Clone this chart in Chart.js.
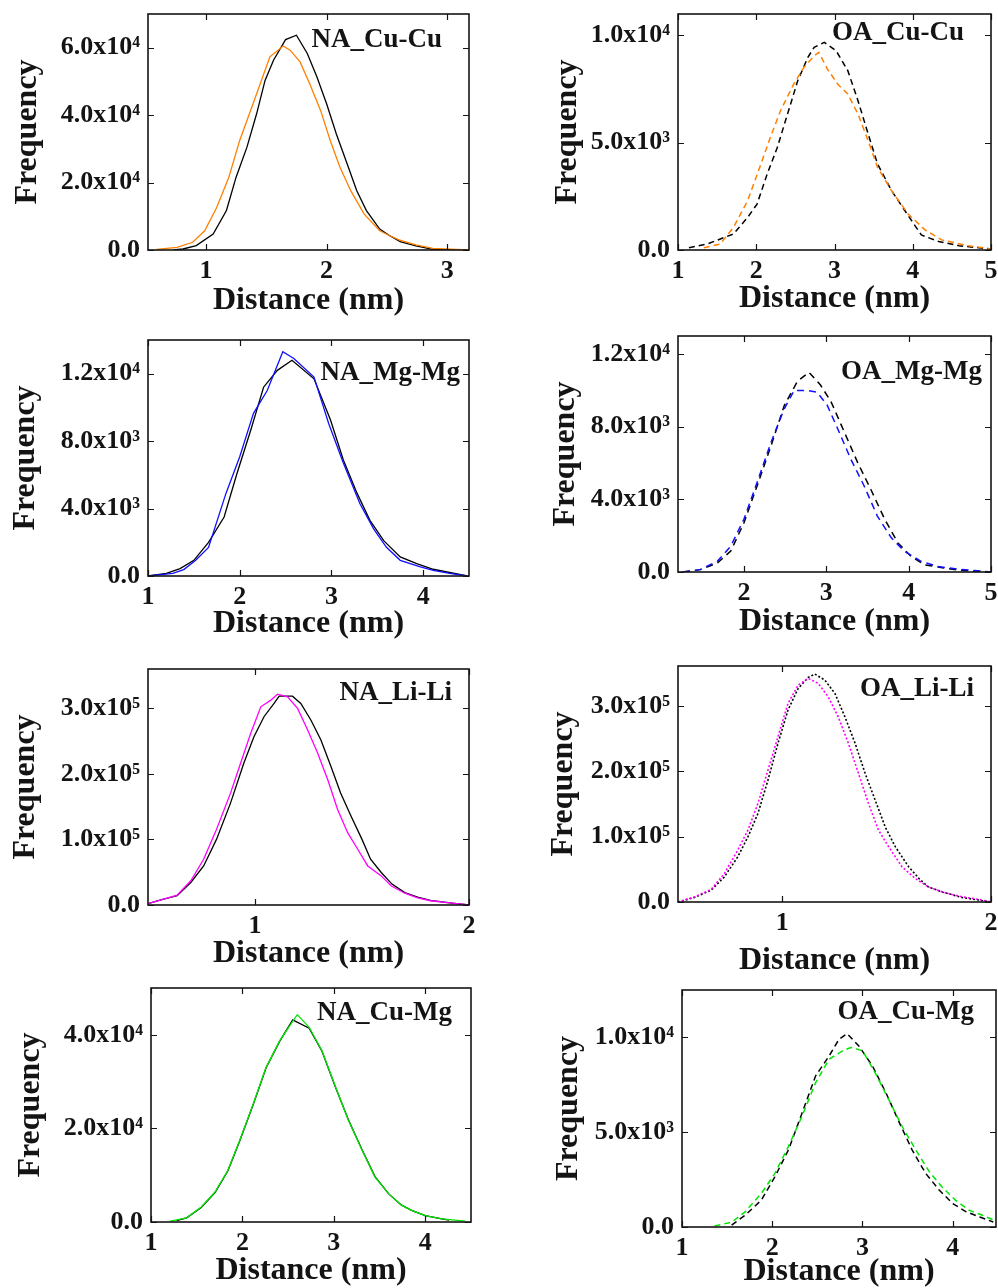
<!DOCTYPE html>
<html>
<head>
<meta charset="utf-8">
<script src="https://cdn.jsdelivr.net/npm/chart.js@4.4.1/dist/chart.umd.min.js"></script>
<style>
html, body { margin: 0; padding: 0; background: #fff; overflow: hidden; }
body { width: 998px; height: 1288px; position: relative; }
canvas { position: absolute; }
</style>
</head>
<body>
<canvas id="naCuCu"></canvas>
<canvas id="oaCuCu"></canvas>
<canvas id="naMgMg"></canvas>
<canvas id="oaMgMg"></canvas>
<canvas id="naLiLi"></canvas>
<canvas id="oaLiLi"></canvas>
<canvas id="naCuMg"></canvas>
<canvas id="oaCuMg"></canvas>
<script>
// ---- data (x in nm, y = frequency) ----

// NA_Cu-Cu
const naCuCuBlackX = [0.73, 0.81, 0.92, 1.06, 1.17, 1.25, 1.34, 1.42, 1.49, 1.56, 1.66, 1.75, 1.84, 1.92, 2.0, 2.08, 2.17, 2.25, 2.33, 2.44, 2.52, 2.61, 2.74, 2.88, 3.16];
const naCuCuBlackY = [0, 300, 1300, 4750, 11700, 21600, 30500, 40400, 50300, 56300, 62400, 63700, 58300, 51300, 43400, 34500, 25600, 17600, 11700, 6200, 4300, 2500, 1200, 200, 0];
const naCuCuOrangeX = [0.59, 0.76, 0.89, 0.99, 1.09, 1.19, 1.28, 1.37, 1.45, 1.53, 1.64, 1.70, 1.78, 1.86, 1.95, 2.03, 2.11, 2.20, 2.31, 2.44, 2.52, 2.60, 2.74, 2.88, 3.18];
const naCuCuOrangeY = [200, 800, 2300, 5700, 12700, 21600, 32500, 41400, 49300, 57300, 60500, 59200, 55800, 49300, 41400, 32500, 24600, 17600, 10700, 5700, 4300, 3000, 1500, 500, 0];

// OA_Cu-Cu
const oaCuCuBlackX = [1.14, 1.39, 1.71, 1.89, 2.01, 2.14, 2.27, 2.40, 2.53, 2.66, 2.74, 2.87, 3.02, 3.17, 3.30, 3.43, 3.55, 3.73, 3.90, 4.11, 4.33, 4.59, 5.0];
const oaCuCuBlackY = [100, 300, 750, 1520, 2140, 3540, 4790, 6340, 7890, 8980, 9450, 9680, 9290, 8360, 6960, 5410, 4010, 2760, 1830, 700, 400, 200, 50];
const oaCuCuOrangeX = [1.33, 1.54, 1.71, 1.89, 2.06, 2.18, 2.31, 2.48, 2.61, 2.74, 2.80, 2.91, 3.04, 3.17, 3.30, 3.43, 3.55, 3.73, 3.94, 4.16, 4.37, 4.71, 5.0];
const oaCuCuOrangeY = [100, 280, 1060, 2300, 4010, 5250, 6490, 7740, 8510, 9050, 9210, 8430, 7740, 7270, 6340, 5090, 3850, 2760, 1680, 930, 470, 200, 50];

// NA_Mg-Mg
const naMgMgBlackX = [1.0, 1.2, 1.35, 1.5, 1.66, 1.83, 1.97, 2.12, 2.26, 2.41, 2.57, 2.81, 2.99, 3.13, 3.28, 3.42, 3.57, 3.75, 3.93, 4.11, 4.48];
const naMgMgBlackY = [0, 150, 440, 930, 2000, 3500, 6080, 8650, 11200, 12200, 12800, 11700, 9250, 6880, 4900, 3300, 2100, 1130, 730, 400, 0];
const naMgMgBlueX = [1.0, 1.27, 1.39, 1.52, 1.66, 1.85, 2.0, 2.15, 2.30, 2.47, 2.59, 2.81, 2.97, 3.13, 3.31, 3.46, 3.60, 3.75, 3.97, 4.11, 4.29, 4.48];
const naMgMgBlueY = [0, 150, 380, 930, 1700, 4900, 7070, 9650, 11000, 13300, 12900, 11800, 9050, 6700, 4300, 2800, 1700, 930, 540, 340, 150, 0];

// OA_Mg-Mg
const oaMgMgBlackX = [1.26, 1.47, 1.68, 1.84, 2.0, 2.16, 2.33, 2.49, 2.65, 2.79, 2.93, 3.06, 3.22, 3.38, 3.54, 3.71, 3.87, 4.03, 4.19, 4.39, 4.60, 5.0];
const oaMgMgBlackY = [0, 130, 500, 1150, 2700, 4740, 6960, 9170, 10500, 11000, 10300, 9360, 7700, 6040, 4560, 2900, 1600, 860, 400, 250, 100, 0];
const oaMgMgBlueX = [1.26, 1.47, 1.68, 1.84, 2.0, 2.16, 2.33, 2.49, 2.61, 2.77, 2.89, 3.01, 3.14, 3.30, 3.46, 3.62, 3.79, 3.95, 4.15, 4.35, 4.60, 4.80, 5.0];
const oaMgMgBlueY = [0, 130, 600, 1420, 2900, 4930, 7150, 8990, 10000, 10000, 9900, 9200, 7880, 6200, 4740, 3080, 1880, 1140, 590, 310, 150, 80, 0];

// NA_Li-Li
const naLiLiBlackX = [0.5, 0.573, 0.636, 0.70, 0.76, 0.82, 0.886, 0.948, 0.995, 1.042, 1.089, 1.113, 1.175, 1.214, 1.261, 1.308, 1.355, 1.40, 1.449, 1.50, 1.54, 1.59, 1.64, 1.70, 1.76, 1.82, 1.92, 2.0];
const naLiLiBlackY = [2000, 9100, 14100, 34400, 59600, 100100, 155800, 216500, 256800, 287200, 307500, 318600, 318600, 307500, 282200, 251800, 211300, 171000, 135500, 100100, 69800, 49600, 31900, 19000, 12000, 7000, 3000, 0];
const naLiLiMagentaX = [0.5, 0.573, 0.636, 0.70, 0.76, 0.82, 0.886, 0.933, 0.98, 1.027, 1.074, 1.105, 1.152, 1.199, 1.246, 1.293, 1.34, 1.386, 1.433, 1.48, 1.527, 1.59, 1.636, 1.70, 1.76, 1.82, 1.92, 2.0];
const naLiLiMagentaY = [2000, 9000, 15000, 36900, 69800, 115300, 171000, 216500, 262000, 302300, 312500, 321600, 317500, 299900, 267000, 231600, 191100, 145600, 110300, 85000, 59600, 44400, 29300, 18000, 11000, 6500, 3000, 0];

// OA_Li-Li
const oaLiLiBlackX = [0.5, 0.577, 0.658, 0.722, 0.786, 0.835, 0.883, 0.931, 0.979, 1.027, 1.076, 1.124, 1.156, 1.204, 1.252, 1.30, 1.349, 1.397, 1.445, 1.493, 1.542, 1.606, 1.655, 1.70, 1.77, 1.86, 1.94, 2.0];
const oaLiLiBlackY = [0, 6700, 17900, 38300, 68900, 99500, 135300, 186300, 242500, 293500, 326700, 343500, 348600, 339400, 319000, 283200, 242500, 196600, 155700, 114800, 84200, 53600, 35800, 23000, 15000, 7000, 3000, 0];
const oaLiLiMagentaX = [0.5, 0.577, 0.658, 0.722, 0.786, 0.835, 0.883, 0.931, 0.979, 1.027, 1.076, 1.124, 1.172, 1.22, 1.268, 1.317, 1.365, 1.413, 1.461, 1.51, 1.574, 1.638, 1.70, 1.77, 1.86, 1.94, 2.0];
const oaLiLiMagentaY = [0, 7700, 19000, 43400, 79200, 109800, 150600, 201600, 252600, 303700, 331800, 342000, 334400, 313900, 283200, 242500, 196600, 150600, 109800, 84200, 53600, 35800, 23000, 15000, 8000, 4000, 0];

// NA_Cu-Mg
const naCuMgBlackX = [1.28, 1.39, 1.55, 1.70, 1.84, 1.97, 2.12, 2.26, 2.41, 2.55, 2.73, 2.87, 3.02, 3.16, 3.31, 3.45, 3.60, 3.74, 3.85, 4.0, 4.18, 4.26];
const naCuMgBlackY = [300, 900, 3100, 6300, 10900, 17300, 25200, 33000, 38700, 43200, 41400, 36500, 28700, 21800, 15400, 9700, 6000, 3600, 2500, 1350, 650, 400];
const naCuMgGreenX = [1.21, 1.39, 1.55, 1.70, 1.84, 1.97, 2.12, 2.26, 2.41, 2.52, 2.60, 2.73, 2.87, 3.02, 3.16, 3.31, 3.45, 3.60, 3.74, 3.85, 4.0, 4.18, 4.44];
const naCuMgGreenY = [200, 900, 3200, 6400, 11000, 17400, 25300, 33100, 38800, 42000, 44300, 41600, 36600, 28800, 21700, 15300, 9600, 6000, 3600, 2500, 1350, 650, 200];

// OA_Cu-Mg
const oaCuMgBlackX = [1.55, 1.70, 1.88, 2.03, 2.18, 2.33, 2.48, 2.63, 2.74, 2.83, 2.96, 3.11, 3.26, 3.41, 3.55, 3.70, 3.85, 4.0, 4.15, 4.30, 4.45];
const oaCuMgBlackY = [100, 620, 1420, 2650, 4070, 6000, 7960, 9020, 9900, 10200, 9550, 8500, 7080, 5490, 4070, 2830, 1950, 1240, 800, 530, 265];
const oaCuMgGreenX = [1.36, 1.55, 1.70, 1.88, 2.03, 2.18, 2.33, 2.48, 2.63, 2.78, 2.87, 3.0, 3.14, 3.29, 3.44, 3.59, 3.74, 3.88, 4.03, 4.18, 4.33, 4.46];
const oaCuMgGreenY = [50, 250, 800, 1770, 2830, 4250, 5840, 7600, 8850, 9290, 9470, 9300, 8140, 6730, 5300, 4070, 2920, 2120, 1420, 886, 620, 355];

// ---- axis ticks (major labelled ticks, minor step) ----
const xTicksCuCuNA = [1, 2, 3];
const xTicks1to5 = [1, 2, 3, 4, 5];
const xTicks1to4 = [1, 2, 3, 4];
const xTicks2to5 = [2, 3, 4, 5];
const xTicksLi = [1, 2];
const yTicksCuCuNA = [0, 20000, 40000, 60000];
const yTicksCuCuOA = [0, 5000, 10000];
const yTicksMgMg = [0, 4000, 8000, 12000];
const yTicksLiLi = [0, 100000, 200000, 300000];
const yTicksCuMgNA = [0, 20000, 40000];
const yTicksCuMgOA = [0, 5000, 10000];

const FONT = "'Liberation Serif', 'DejaVu Serif', 'Times New Roman', serif";
const INK = '#141414';
const SUP = {'0':'\u2070','1':'\u00b9','2':'\u00b2','3':'\u00b3','4':'\u2074','5':'\u2075','6':'\u2076','7':'\u2077','8':'\u2078','9':'\u2079'};

function sci(v) {
    if (v === 0) return '0.0';
    const e = Math.floor(Math.log10(v) + 1e-9);
    const m = v / Math.pow(10, e);
    return m.toFixed(1) + 'x10' + String(e).split('').map(d => SUP[d]).join('');
}

function pts(xs, ys) {
    return xs.map((x, i) => ({x: x, y: ys[i]}));
}

function steps(min, max, step) {
    const out = [];
    const start = Math.ceil(min / step - 1e-9);
    for (let i = start; i * step <= max + 1e-9; i++) out.push(+(i * step).toFixed(6));
    return out;
}

// keep the plot box exactly where the layout puts it
function noEdgePadding(s) {
    s.paddingTop = 0;
    s.paddingBottom = 0;
    s.paddingLeft = 0;
    s.paddingRight = 0;
}

// frame with inward ticks on all four sides + panel label
const framePlugin = {
    id: 'frame',
    afterDraw(chart, args, opts) {
        const {ctx, chartArea: a, scales: {x, y}} = chart;
        ctx.save();
        ctx.strokeStyle = INK;
        ctx.lineWidth = 1.2;
        x.ticks.forEach(t => {
            const px = Math.round(x.getPixelForValue(t.value)) + 0.5;
            const len = t.label ? 6 : 3.5;
            ctx.beginPath();
            ctx.moveTo(px, a.bottom); ctx.lineTo(px, a.bottom - len);
            ctx.moveTo(px, a.top); ctx.lineTo(px, a.top + len);
            ctx.stroke();
        });
        y.ticks.forEach(t => {
            const py = Math.round(y.getPixelForValue(t.value)) + 0.5;
            const len = t.label ? 6 : 3.5;
            ctx.beginPath();
            ctx.moveTo(a.left, py); ctx.lineTo(a.left + len, py);
            ctx.moveTo(a.right, py); ctx.lineTo(a.right - len, py);
            ctx.stroke();
        });
        ctx.lineWidth = 1.6;
        ctx.strokeRect(a.left, a.top, a.right - a.left, a.bottom - a.top);
        ctx.font = 'bold 27px ' + FONT;
        ctx.fillStyle = INK;
        ctx.textAlign = 'right';
        ctx.textBaseline = 'middle';
        ctx.fillText(opts.text, a.right - opts.dx, a.top + opts.dy);
        ctx.restore();
    }
};

function makePanel(id, box, xRange, xMajor, yRange, yMajor, yMinorStep, label, series) {
    const [left, top, right, bottom, yTitleX, xTitleDrop] = box;
    const padTop = 10, padRight = 10;
    const yW = left - yTitleX + 18;
    const xH = xTitleDrop + 18;
    const cv = document.getElementById(id);
    cv.width = yW + (right - left) + padRight;
    cv.height = padTop + (bottom - top) + xH;
    cv.style.left = (left - yW) + 'px';
    cv.style.top = (top - padTop) + 'px';

    const xTicks = steps(xRange[0], xRange[1], 0.5);
    const yTicks = steps(0, yRange[1], yMinorStep);
    const isMajorX = v => xMajor.some(m => Math.abs(m - v) < 1e-6);
    const isMajorY = v => yMajor.some(m => Math.abs(m - v) < 1e-3);

    new Chart(cv.getContext('2d'), {
        type: 'line',
        data: {
            datasets: series.map(s => ({
                data: pts(s.x, s.y),
                borderColor: s.color,
                borderWidth: s.width || 1.3,
                borderDash: s.dash || [],
                pointRadius: 0,
                tension: 0,
                fill: false
            }))
        },
        options: {
            responsive: false,
            animation: false,
            devicePixelRatio: 1,
            layout: {padding: {top: padTop, right: padRight, left: 0, bottom: 0}},
            plugins: {
                legend: {display: false},
                tooltip: {enabled: false},
                frame: label
            },
            scales: {
                x: {
                    type: 'linear',
                    min: xRange[0],
                    max: xRange[1],
                    grid: {display: false, drawTicks: false},
                    border: {display: false},
                    afterBuildTicks: s => { s.ticks = xTicks.map(v => ({value: v})); },
                    afterFit: s => { s.height = xH; noEdgePadding(s); },
                    ticks: {
                        autoSkip: false,
                        maxRotation: 0,
                        padding: 6,
                        color: INK,
                        font: {family: FONT, size: 26, weight: 'bold'},
                        callback: v => isMajorX(v) ? String(Math.round(v)) : null
                    },
                    title: {
                        display: true,
                        text: 'Distance (nm)',
                        color: INK,
                        padding: 0,
                        font: {family: FONT, size: 32, weight: 'bold'}
                    }
                },
                y: {
                    type: 'linear',
                    min: yRange[0],
                    max: yRange[1],
                    grid: {display: false, drawTicks: false},
                    border: {display: false},
                    afterBuildTicks: s => { s.ticks = yTicks.map(v => ({value: v})); },
                    afterFit: s => { s.width = yW; noEdgePadding(s); },
                    ticks: {
                        autoSkip: false,
                        padding: 8,
                        color: INK,
                        font: {family: FONT, size: 26, weight: 'bold'},
                        callback: v => isMajorY(v) ? sci(v) : null
                    },
                    title: {
                        display: true,
                        text: 'Frequency',
                        color: INK,
                        padding: 0,
                        font: {family: FONT, size: 32, weight: 'bold'}
                    }
                }
            }
        },
        plugins: [framePlugin]
    });
}

const BLACK = '#000000';

makePanel('naCuCu', [148, 14, 469, 250, 27, 52], [0.52, 3.18], xTicksCuCuNA, [0, 70000], yTicksCuCuNA, 10000,
    {text: 'NA_Cu-Cu', dx: 27, dy: 26},
    [{x: naCuCuOrangeX, y: naCuCuOrangeY, color: '#ff8000'},
     {x: naCuCuBlackX, y: naCuCuBlackY, color: BLACK}]);

makePanel('oaCuCu', [678, 14, 991, 250, 567, 50], [1, 5], xTicks1to5, [0, 11000], yTicksCuCuOA, 2500,
    {text: 'OA_Cu-Cu', dx: 27, dy: 19},
    [{x: oaCuCuOrangeX, y: oaCuCuOrangeY, color: '#ff8000', dash: [6, 4], width: 1.5},
     {x: oaCuCuBlackX, y: oaCuCuBlackY, color: BLACK, dash: [6, 4], width: 1.5}]);

makePanel('naMgMg', [148, 340, 469, 576, 25, 49], [1, 4.5], xTicks1to4, [0, 14000], yTicksMgMg, 2000,
    {text: 'NA_Mg-Mg', dx: 9, dy: 33},
    [{x: naMgMgBlueX, y: naMgMgBlueY, color: '#1010ff'},
     {x: naMgMgBlackX, y: naMgMgBlackY, color: BLACK}]);

makePanel('oaMgMg', [678, 336, 991, 572, 565, 51], [1.2, 5], xTicks2to5, [0, 13000], yTicksMgMg, 2000,
    {text: 'OA_Mg-Mg', dx: 9, dy: 36},
    [{x: oaMgMgBlueX, y: oaMgMgBlueY, color: '#1010ff', dash: [7, 5], width: 1.5},
     {x: oaMgMgBlackX, y: oaMgMgBlackY, color: BLACK, dash: [7, 5], width: 1.5}]);

makePanel('naLiLi', [148, 669, 469, 905, 25, 50], [0.5, 2], xTicksLi, [0, 360000], yTicksLiLi, 50000,
    {text: 'NA_Li-Li', dx: 17, dy: 24},
    [{x: naLiLiMagentaX, y: naLiLiMagentaY, color: '#ff00ff'},
     {x: naLiLiBlackX, y: naLiLiBlackY, color: BLACK}]);

makePanel('oaLiLi', [678, 666, 991, 902, 563, 60], [0.5, 2], xTicksLi, [0, 361000], yTicksLiLi, 50000,
    {text: 'OA_Li-Li', dx: 17, dy: 23},
    [{x: oaLiLiMagentaX, y: oaLiLiMagentaY, color: '#ff00ff', dash: [2, 2], width: 1.6},
     {x: oaLiLiBlackX, y: oaLiLiBlackY, color: BLACK, dash: [2, 2], width: 1.6}]);

makePanel('naCuMg', [151, 988, 471, 1222, 30, 50], [1, 4.5], xTicks1to4, [0, 50000], yTicksCuMgNA, 10000,
    {text: 'NA_Cu-Mg', dx: 19, dy: 25},
    [{x: naCuMgGreenX, y: naCuMgGreenY, color: '#00e600'},
     {x: naCuMgBlackX, y: naCuMgBlackY, color: BLACK}]);

makePanel('oaCuMg', [682, 990, 996, 1227, 568, 46], [1, 4.48], xTicks1to4, [0, 12500], yTicksCuMgOA, 2500,
    {text: 'OA_Cu-Mg', dx: 22, dy: 22},
    [{x: oaCuMgGreenX, y: oaCuMgGreenY, color: '#00e600', dash: [6, 4], width: 1.5},
     {x: oaCuMgBlackX, y: oaCuMgBlackY, color: BLACK, dash: [6, 4], width: 1.5}]);
</script>
</body>
</html>
